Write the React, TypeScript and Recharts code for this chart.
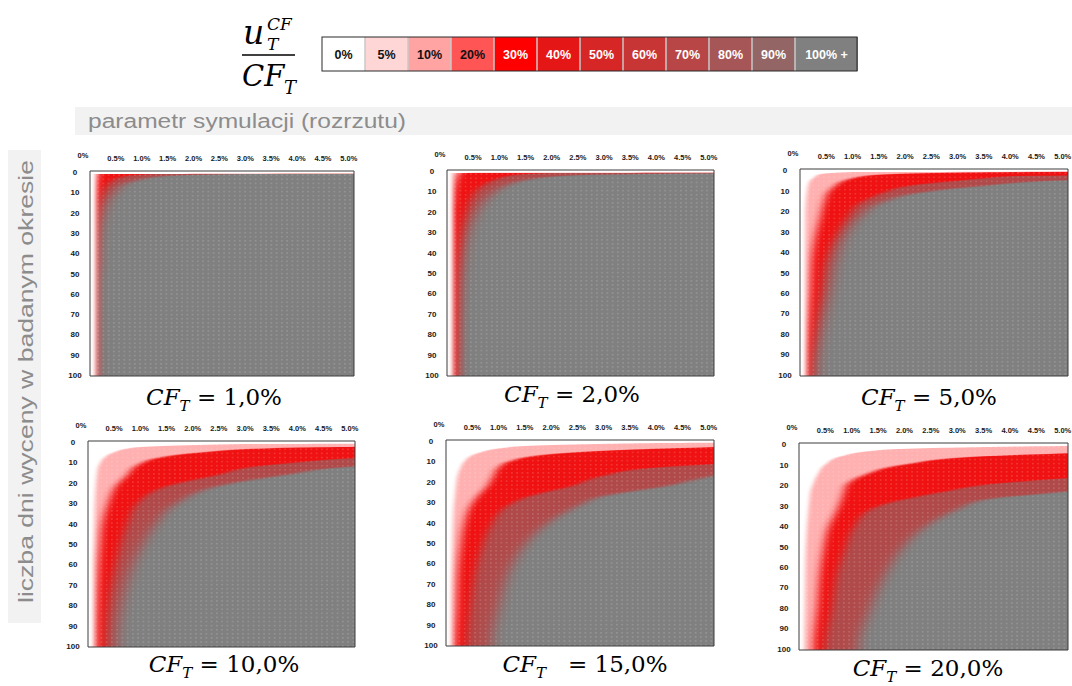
import React from "react";
import { ComposedChart, Area, XAxis, YAxis, CartesianGrid, ReferenceArea } from "recharts";

// colour scale of u/CF
const LEVELS = ["0%", "5%", "10%", "20%", "30%", "40%", "50%", "60%", "70%", "80%", "90%", "100% +"];
const LEVEL_COLORS = ["#ffffff", "#ffd6d6", "#ffa3a3", "#ff5555", "#ff0000", "#e51616", "#d62626", "#c83535", "#b84646", "#a65656", "#946565", "#808080"];
const LEVEL_TEXT = ["#111", "#111", "#111", "#111", "#fff", "#fff", "#fff", "#fff", "#fff", "#fff", "#fff", "#fff"];

const X_TICKS = [0, 0.5, 1, 1.5, 2, 2.5, 3, 3.5, 4, 4.5, 5];
const Y_TICKS = [0, 10, 20, 30, 40, 50, 60, 70, 80, 90, 100];
const CF_LABELS = ["1,0%", "2,0%", "5,0%", "10,0%", "15,0%", "20,0%"];

// per panel: day rows, and the spread (%) at which u/CF reaches 5%, 30%, 60% and 100%
const CF1_DAYS = [0, 1, 2, 4, 6, 10, 15, 22, 30, 45, 56, 100];
const CF1_B5 = [9, 0.1, 0.1, 0.1, 0.1, 0.1, 0.1, 0.1, 0.1, 0.1, 0.1, 0.1];
const CF1_B30 = [9, 0.15, 0.15, 0.13, 0.12, 0.11, 0.1, 0.1, 0.1, 0.1, 0.1, 0.1];
const CF1_B60 = [9, 1.3, 0.7, 0.45, 0.35, 0.25, 0.18, 0.14, 0.12, 0.11, 0.1, 0.1];
const CF1_B100 = [9, 3.0, 1.45, 0.92, 0.66, 0.48, 0.34, 0.24, 0.18, 0.15, 0.11, 0.1];

const CF2_DAYS = [0, 1, 2, 4, 7, 10, 14, 19, 24, 29, 38, 58, 80, 100];
const CF2_B5 = [9, 0.1, 0.1, 0.1, 0.1, 0.1, 0.1, 0.1, 0.1, 0.1, 0.1, 0.1, 0.1, 0.1];
const CF2_B30 = [9, 0.25, 0.22, 0.18, 0.15, 0.13, 0.12, 0.1, 0.1, 0.1, 0.1, 0.1, 0.1, 0.1];
const CF2_B60 = [9, 2.0, 1.3, 0.95, 0.7, 0.55, 0.45, 0.38, 0.32, 0.28, 0.24, 0.2, 0.2, 0.19];
const CF2_B100 = [9, 6.0, 2.6, 1.6, 1.15, 0.93, 0.75, 0.6, 0.5, 0.42, 0.34, 0.26, 0.21, 0.2];

const CF5_DAYS = [0, 1, 2, 3, 4, 5, 8, 11, 16, 23, 31, 43, 59, 75, 100];
const CF5_B5 = [9, 1.0, 0.4, 0.3, 0.25, 0.2, 0.15, 0.13, 0.11, 0.1, 0.1, 0.1, 0.1, 0.1, 0.1];
const CF5_B30 = [9, 4.5, 1.8, 1.2, 1.0, 0.86, 0.65, 0.53, 0.45, 0.38, 0.3, 0.22, 0.19, 0.15, 0.12];
const CF5_B60 = [9, 9, 9, 4.0, 3.5, 3.1, 2.0, 1.6, 1.15, 0.9, 0.7, 0.5, 0.4, 0.3, 0.2];
const CF5_B100 = [9, 9, 9, 9, 7.0, 5.1, 3.36, 2.3, 1.55, 1.14, 0.89, 0.7, 0.57, 0.44, 0.32];

const CF10_DAYS = [0, 1, 3, 5, 8, 10, 12, 16, 21, 30, 40, 50, 60, 80, 100];
const CF10_B5 = [9, 3.0, 0.8, 0.5, 0.3, 0.24, 0.2, 0.17, 0.15, 0.13, 0.12, 0.11, 0.1, 0.1, 0.1];
const CF10_B30 = [9, 9, 3.5, 2.2, 1.3, 1.05, 0.9, 0.75, 0.55, 0.38, 0.27, 0.23, 0.2, 0.17, 0.16];
const CF10_B60 = [9, 9, 9, 8, 5.0, 4.0, 3.2, 2.5, 1.6, 0.95, 0.75, 0.62, 0.52, 0.38, 0.33];
const CF10_B100 = [9, 9, 9, 9, 9, 7.0, 5.1, 3.8, 2.6, 1.7, 1.3, 1.05, 0.86, 0.64, 0.55];

const CF15_DAYS = [0, 1, 3, 6, 10, 13, 17, 22, 27, 32, 42, 52, 61, 81, 100];
const CF15_B5 = [9, 4.0, 1.2, 0.6, 0.35, 0.28, 0.22, 0.19, 0.17, 0.15, 0.13, 0.12, 0.11, 0.1, 0.1];
const CF15_B30 = [9, 9, 5.0, 2.2, 1.2, 1.0, 0.9, 0.78, 0.6, 0.46, 0.33, 0.27, 0.23, 0.2, 0.17];
const CF15_B60 = [9, 9, 9, 9, 6.0, 4.0, 3.0, 2.4, 1.6, 1.16, 0.84, 0.68, 0.58, 0.46, 0.4];
const CF15_B100 = [9, 9, 9, 9, 8.5, 6.0, 5.1, 4.2, 3.0, 2.5, 1.85, 1.47, 1.25, 1.0, 0.87];

const CF20_DAYS = [0, 1, 3, 6, 10, 15, 20, 23, 27, 32, 41, 51, 61, 80, 100];
const CF20_B5 = [9, 5.0, 1.5, 0.8, 0.5, 0.35, 0.26, 0.22, 0.2, 0.18, 0.15, 0.13, 0.12, 0.11, 0.1];
const CF20_B30 = [9, 9, 7.0, 3.5, 2.0, 1.25, 0.9, 0.85, 0.8, 0.72, 0.55, 0.46, 0.4, 0.34, 0.27];
const CF20_B60 = [9, 9, 9, 9, 9, 6.0, 3.5, 2.8, 2.0, 1.35, 1.03, 0.87, 0.74, 0.62, 0.49];
const CF20_B100 = [9, 9, 9, 9, 9, 8.0, 6.0, 5.1, 3.56, 3.0, 2.36, 1.95, 1.69, 1.35, 1.12];

type Row = { y: number; b5: number; b30: number; b60: number; b100: number };

function buildRows(days: number[], b5: number[], b30: number[], b60: number[], b100: number[]): Row[] {
  const rows = days.map((d, i) => ({ y: d + 0.5, b5: b5[i], b30: b30[i], b60: b60[i], b100: b100[i] }));
  // top row covers its whole cell, last row runs down to the bottom edge
  return [{ ...rows[0], y: 0 }, { ...rows[0], y: 1 }, ...rows.slice(1), { ...rows[rows.length - 1], y: 101 }];
}

const PANELS = [
  { x: 90, y: 171, w: 264, h: 205, cx: 214, by: 405, gap: "\u00a0", rows: buildRows(CF1_DAYS, CF1_B5, CF1_B30, CF1_B60, CF1_B100) },
  { x: 447, y: 170, w: 267, h: 206, cx: 572, by: 402, gap: "\u00a0", rows: buildRows(CF2_DAYS, CF2_B5, CF2_B30, CF2_B60, CF2_B100) },
  { x: 800, y: 169, w: 268, h: 207, cx: 929, by: 405, gap: "\u00a0", rows: buildRows(CF5_DAYS, CF5_B5, CF5_B30, CF5_B60, CF5_B100) },
  { x: 88, y: 441, w: 267, h: 206, cx: 224, by: 672, gap: "\u00a0", rows: buildRows(CF10_DAYS, CF10_B5, CF10_B30, CF10_B60, CF10_B100) },
  { x: 446, y: 440, w: 268, h: 206, cx: 585, by: 672, gap: "\u00a0\u00a0\u00a0", rows: buildRows(CF15_DAYS, CF15_B5, CF15_B30, CF15_B60, CF15_B100) },
  { x: 799, y: 443, w: 269, h: 207, cx: 928, by: 676, gap: "\u00a0", rows: buildRows(CF20_DAYS, CF20_B5, CF20_B30, CF20_B60, CF20_B100) },
];

// each zone is softened sideways so the steps of the colour scale blend like the original cells
const ZONES = [
  { key: "b100", fill: "#b04a4a", cls: "soft7" },
  { key: "b60", fill: "#f01212", cls: "soft5" },
  { key: "b30", fill: "#ffb0b0", cls: "soft4" },
  { key: "b5", fill: "#ffffff", cls: "soft2" },
];
const BLURS = [7, 5, 4, 2];

const SANS = "'Liberation Sans', Arial, sans-serif";
const SERIF = "'DejaVu Serif', serif";
const PL = 26;
const PT = 22;

const XTick = ({ x, y, payload }: any) => {
  const v = payload.value;
  const zero = v === 0;
  return (
    <text x={zero ? x - 7 : x} y={zero ? y - 3 : y} textAnchor="middle" fontSize={7.5} fontWeight="bold" fill="#1a1a1a" fontFamily={SANS}>
      {zero ? "0%" : v.toFixed(1) + "%"}
    </text>
  );
};

const YTick = ({ x, y, payload }: any) => (
  <text x={x - 7} y={y + 3} textAnchor="middle" fontSize={8} fontWeight="bold" fill="#1a1a1a" fontFamily={SANS}>
    {Math.round(payload.value - 0.5)}
  </text>
);

function HeatPanel({ p }: { p: (typeof PANELS)[number] }) {
  return (
    <div style={{ position: "absolute", left: p.x - PL, top: p.y - PT }}>
      <ComposedChart width={PL + p.w + 6} height={PT + p.h + 4} data={p.rows} layout="vertical" margin={{ top: 8, right: 6, bottom: 4, left: 4 }}>
        <CartesianGrid fill="#808080" stroke="none" horizontal={false} vertical={false} />
        <XAxis type="number" orientation="top" domain={[0, 5.1]} ticks={X_TICKS} allowDataOverflow height={14} tickSize={0} tickMargin={10} axisLine={false} tickLine={false} interval={0} tick={(t: any) => <XTick {...t} />} />
        <YAxis type="number" dataKey="y" domain={[0, 101]} allowDataOverflow ticks={Y_TICKS.map((v) => v + 0.5)} width={22} tickSize={0} tickMargin={8} axisLine={false} tickLine={false} interval={0} tick={(t: any) => <YTick {...t} />} />
        {ZONES.map((z) => (
          <Area key={z.key} dataKey={z.key} type="monotone" fill={z.fill} fillOpacity={1} stroke="none" baseValue={-1} className={z.cls} dot={false} activeDot={false} isAnimationActive={false} />
        ))}
        <ReferenceArea x1={0} x2={5.1} y1={0} y2={101} fill="url(#cells)" fillOpacity={1} stroke="#3c3c3c" strokeWidth={1} ifOverflow="visible" />
      </ComposedChart>
    </div>
  );
}

export default function App() {
  let lx = 322;
  return (
    <div style={{ position: "absolute", left: 0, top: 0, width: 1072, height: 686, background: "#fff", overflow: "hidden" }}>
      <style>{BLURS.map((b) => `.soft${b} path { filter: url(#hb${b}); }`).join("\n")}</style>
      <svg width={0} height={0} style={{ position: "absolute" }}>
        <defs>
          {BLURS.map((b) => (
            <filter key={b} id={`hb${b}`} x="-0.3" y="-0.05" width="1.6" height="1.1" colorInterpolationFilters="sRGB">
              <feGaussianBlur stdDeviation={`${b} 0.3`} />
            </filter>
          ))}
          <pattern id="cells" patternUnits="userSpaceOnUse" width={5.25} height={4.1}>
            <rect x={2} y={1} width={1.2} height={1.2} fill="#ffffff" fillOpacity={0.28} />
          </pattern>
        </defs>
      </svg>

      <svg width={1072} height={686} style={{ position: "absolute", left: 0, top: 0 }}>
        {/* formula u_T^CF / CF_T */}
        <text x={243} y={44} fontFamily={SERIF} fontStyle="italic" fontSize={33}>u</text>
        <text x={267} y={30} fontFamily={SERIF} fontStyle="italic" fontSize={17}>CF</text>
        <text x={267} y={50} fontFamily={SERIF} fontStyle="italic" fontSize={17}>T</text>
        <line x1={242} x2={295} y1={55} y2={55} stroke="#000" strokeWidth={1.5} />
        <text x={242} y={86} fontFamily={SERIF} fontStyle="italic" fontSize={29}>CF</text>
        <text x={284} y={94} fontFamily={SERIF} fontStyle="italic" fontSize={18}>T</text>

        {/* colour scale */}
        {LEVELS.map((lab, i) => {
          const w = i === LEVELS.length - 1 ? 63 : 43;
          const x = lx;
          lx += w;
          return (
            <g key={lab}>
              <rect x={x} y={37} width={w} height={34} fill={LEVEL_COLORS[i]} />
              {i > 0 && <line x1={x} x2={x} y1={37} y2={71} stroke="#c8c8c8" strokeWidth={1.5} />}
              <text x={x + w / 2} y={59} textAnchor="middle" fontFamily={SANS} fontWeight="bold" fontSize={12.5} fill={LEVEL_TEXT[i]}>
                {lab}
              </text>
            </g>
          );
        })}
        <rect x={322} y={37} width={535} height={34} fill="none" stroke="#2a2a2a" strokeWidth={1} />

        {/* axis titles */}
        <rect x={75} y={107} width={997} height={28} fill="#f2f2f2" />
        <text x={88} y={128} fontFamily={SANS} fontSize={20} fill="#8c8c8c" textLength={318} lengthAdjust="spacingAndGlyphs">
          parametr symulacji (rozrzutu)
        </text>
        <rect x={8} y={150} width={33} height={473} fill="#f2f2f2" />
        <text transform="translate(33,603) rotate(-90)" fontFamily={SANS} fontSize={20} fill="#8c8c8c" textLength={443} lengthAdjust="spacingAndGlyphs">
          liczba dni wyceny w badanym okresie
        </text>

        {/* panel captions */}
        {PANELS.map((p, i) => (
          <text key={i} x={p.cx} y={p.by} textAnchor="middle" fontFamily={SERIF} fontSize={23} fill="#000">
            <tspan fontStyle="italic">CF</tspan>
            <tspan fontStyle="italic" fontSize={15} dy={6}>T</tspan>
            <tspan dy={-6}>{p.gap + "=\u00a0" + CF_LABELS[i]}</tspan>
          </text>
        ))}
      </svg>

      {PANELS.map((p, i) => (
        <HeatPanel key={i} p={p} />
      ))}
    </div>
  );
}
